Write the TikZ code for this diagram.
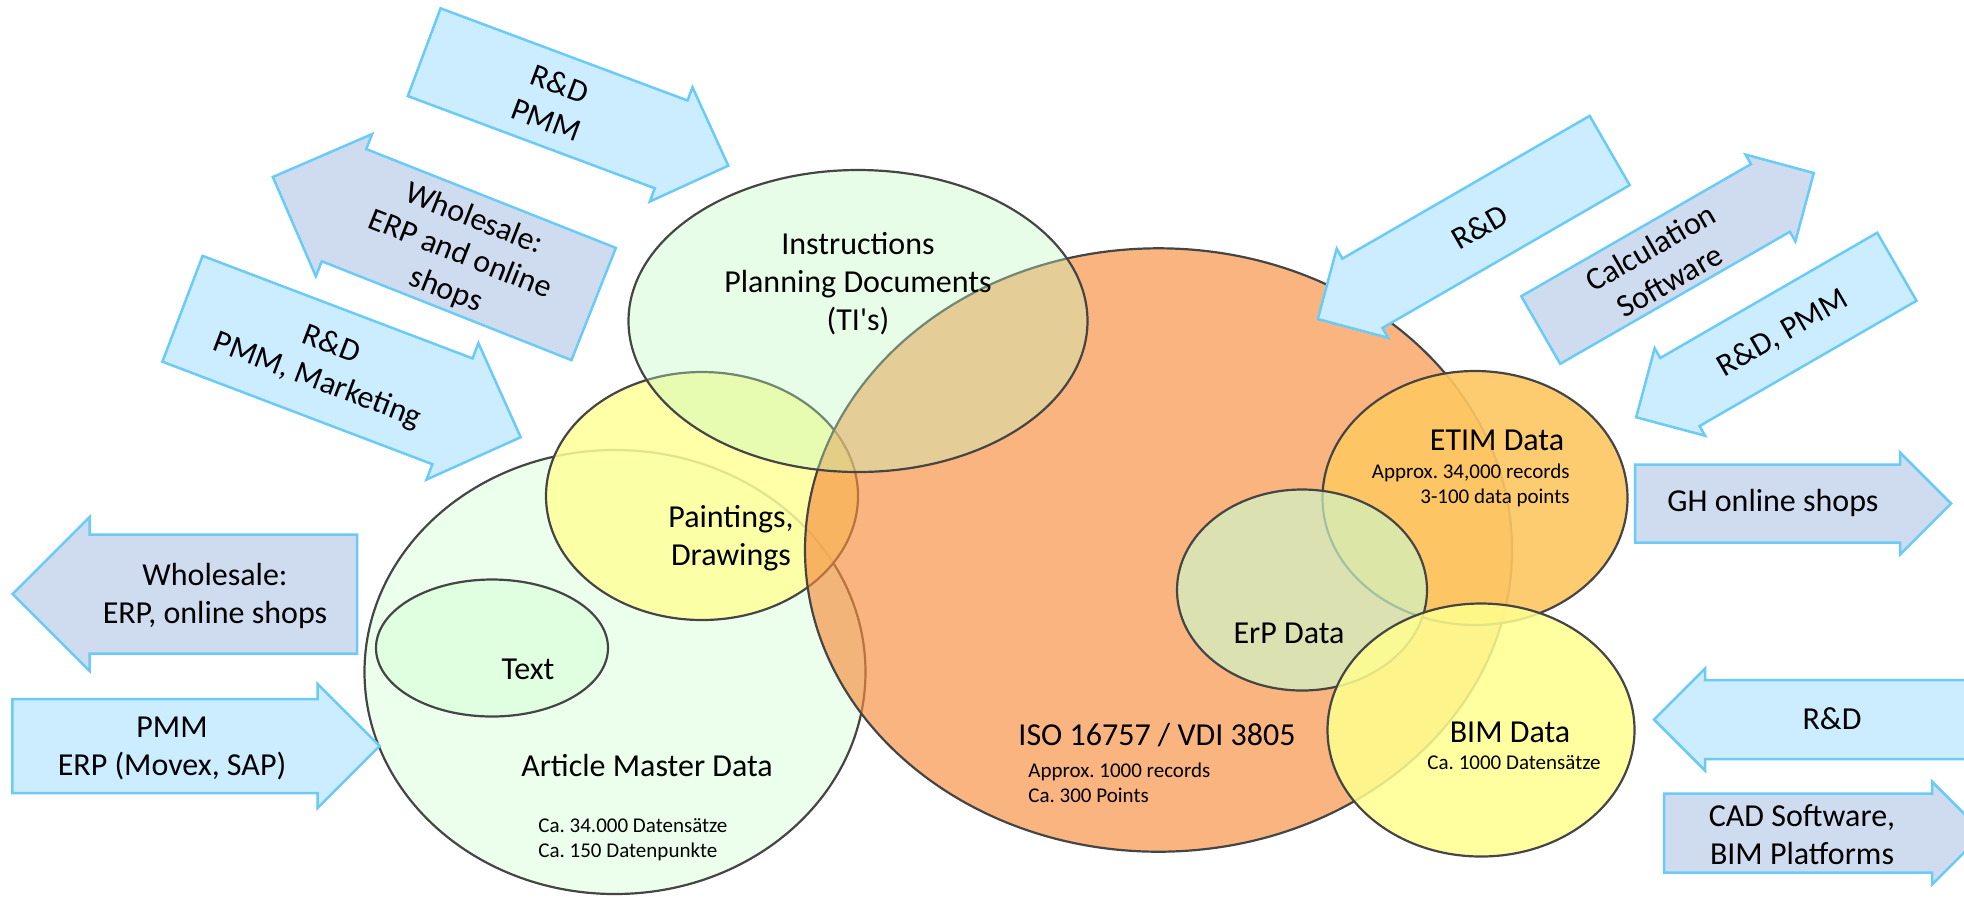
\documentclass[tikz,border=0pt]{standalone}
\usepackage{fontspec}
\setmainfont{Carlito}[Ligatures=TeXOff]
\frenchspacing
\definecolor{arrblue}{HTML}{CCECFF}
\definecolor{arrlav}{HTML}{CFDCEF}
\definecolor{arrline}{HTML}{6ACBF6}
\definecolor{edge}{HTML}{454545}
\definecolor{cgreen}{HTML}{CCFFCC}
\definecolor{cinstr}{RGB}{193,249,193}
\definecolor{cyellow}{HTML}{FFFF99}
\definecolor{corange}{RGB}{247,140,60}
\definecolor{cetim}{RGB}{254,199,96}
\definecolor{cerp}{RGB}{207,245,197}
\definecolor{cbim}{RGB}{255,255,143}
\newcommand\myarrow[6]{%
  \begin{scope}[shift={#1}, rotate=#2]
    \path[#6] ({-#3/2},{-#4/2}) -- ({#3/2-#5/2},{-#4/2}) -- ({#3/2-#5/2},{-#5/2})
      -- ({#3/2},0) -- ({#3/2-#5/2},{#5/2}) -- ({#3/2-#5/2},{#4/2}) -- ({-#3/2},{#4/2}) -- cycle;
  \end{scope}}
\begin{document}
\begin{tikzpicture}[x=0.5pt,y=-0.5pt,
  big/.style={font=\fontsize{16}{19.15}\selectfont, align=center, inner sep=0pt},
  small/.style={font=\fontsize{10.5}{12.5}\selectfont, inner sep=0pt},
  venn/.style={draw=edge, line width=1.1pt},
  arrowA/.style={fill=arrblue, draw=arrline, line width=1.25pt, line join=miter},
  arrowB/.style={fill=arrlav, draw=arrline, line width=1.25pt, line join=miter}]
\useasboundingbox (0,0) rectangle (1964,896);
\clip (0,0) rectangle (1964,896);

% ---- Venn ellipses ----
\path[venn, fill=cgreen, fill opacity=0.38] (615,672) ellipse [x radius=250.5, y radius=222];
\path[venn, fill=cgreen, fill opacity=0.38] (492,648) ellipse [x radius=116, y radius=68.5];
\path[venn, fill=cyellow, fill opacity=0.85] (702,496) ellipse [x radius=156, y radius=124];
\path[venn, fill=corange, fill opacity=0.65] (1158.5,550) ellipse [x radius=353.5, y radius=301.7];
\path[venn, fill=cinstr, fill opacity=0.37] (858,321) ellipse [x radius=229.5, y radius=151];
\path[venn, fill=cetim, fill opacity=0.9] (1475,498) ellipse [x radius=152.5, y radius=127];
\path[venn, fill=cerp, fill opacity=0.7] (1302,590) ellipse [x radius=125, y radius=100.5];
\path[venn, fill=cbim, fill opacity=0.85] (1481,730) ellipse [x radius=153.5, y radius=126.5];

% ---- labels in ellipses ----
\node[big] (instr) at (858,283.5) {Instructions\\Planning Documents\\(TI's)};
\node[big] (paint) at (731,538) {Paintings,\\Drawings};
\node[big] (text) at (528,669) {Text};
\node[big] (article) at (647,765) {Article Master Data};
\node[small, anchor=west, align=left] (articlesub) at (538,840) {Ca. 34.000 Datensätze\\Ca. 150 Datenpunkte};
\node[big] (iso) at (1157,735) {ISO 16757 / VDI 3805};
\node[small, anchor=west, align=left] (isosub) at (1028,783) {Approx. 1000 records\\Ca. 300 Points};
\node[big] (etim) at (1497,440) {ETIM Data};
\node[small, anchor=east, align=right] (etimsub) at (1570,485.5) {Approx. 34,000 records\\3-100 data points};
\node[big] (erp) at (1289,633) {ErP Data};
\node[big] (bim) at (1510,732) {BIM Data};
\node[small] (bimsub) at (1514,763) {Ca. 1000 Datensätze};

% ---- block arrows ----
\myarrow{(184.8,594)}{180}{344.4}{119}{154}{arrowB}
\myarrow{(196,746)}{0}{367.4}{94}{124}{arrowA}
\myarrow{(1793,503.5)}{0}{316}{78}{102}{arrowB}
\myarrow{(1810,719.5)}{180}{312}{79}{102}{arrowA}
\myarrow{(1823.75,833)}{0}{319.5}{79}{103}{arrowB}
\myarrow{(576.25,108.95)}{-20.47}{324.6}{93.7}{122}{arrowA}
\myarrow{(433.25,240.5)}{158.4}{345}{120.7}{153}{arrowB}
\myarrow{(351.6,373)}{-20.8}{361.8}{113.2}{146}{arrowA}
\myarrow{(1463.75,234.75)}{210}{337}{80}{103}{arrowA}
\myarrow{(1677.25,251.5)}{29.9}{315}{78}{100}{arrowB}
\myarrow{(1766.5,342)}{210}{301}{78.6}{101}{arrowA}

% ---- arrow labels ----
\node[big] (aWh) at (215,596) {Wholesale:\\ERP, online shops};
\node[big] (aPMM) at (172,748.5) {PMM\\ERP (Movex, SAP)};
\node[big] (aGH) at (1773,503) {GH online shops};
\node[big] (aRD) at (1832,719) {R\&D};
\node[big] (aCAD) at (1802,834.5) {CAD Software,\\BIM Platforms};
\node[big, rotate=-20.47] (aRDPMM) at (553,101.7) {R\&D\\PMM};
\node[big, rotate=-21.6] (aWh2) at (460,255) {Wholesale:\\ERP and online\\shops};
\node[big, rotate=-20.8] (aRDMk) at (324,363) {R\&D\\PMM, Marketing};
\node[big, rotate=30] (aRD2) at (1480,226.7) {R\&D};
\node[big, rotate=29.9] (aCalc) at (1660,264) {Calculation\\Software};
\node[big, rotate=30] (aRD3) at (1782.8,333.3) {R\&D, PMM};
\end{tikzpicture}
\end{document}
